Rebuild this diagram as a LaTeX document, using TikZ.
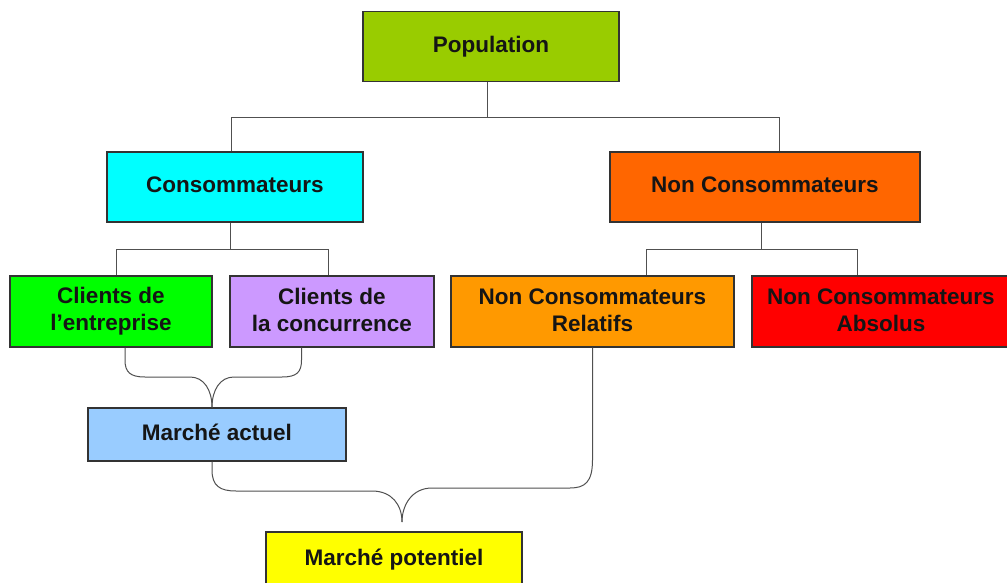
\documentclass[tikz,border=0pt]{standalone}
\usepackage{fontspec}
\setmainfont{Liberation Sans}
\usetikzlibrary{calc}
\definecolor{popgreen}{HTML}{99CC00}
\definecolor{conscyan}{HTML}{00FFFF}
\definecolor{ncorange}{HTML}{FF6600}
\definecolor{clgreen}{HTML}{00FF00}
\definecolor{cclilac}{HTML}{CC99FF}
\definecolor{nrorange}{HTML}{FF9900}
\definecolor{nared}{HTML}{FF0000}
\definecolor{mablue}{HTML}{99CCFF}
\definecolor{mpyellow}{HTML}{FFFF00}
\definecolor{edge}{HTML}{333333}
\definecolor{wire}{HTML}{505050}
\definecolor{ink}{HTML}{151515}
% line strut that keeps capitals centred in each box
\newcommand\capstrut{\rule[-4pt]{0pt}{20pt}}
\tikzset{
  box/.style={draw=edge, line width=1.1pt, inner sep=0pt, align=center,
    text=ink, font=\fontsize{22.5}{27}\selectfont\bfseries},
  conn/.style={draw=wire, line width=1pt},
}
\begin{document}
\begin{tikzpicture}[x=1pt,y=-1pt]
\useasboundingbox (0,0) rectangle (1007,583);
\fill[white] (0,0) rectangle (1007,583);

% boxes
\node[box, fill=popgreen, minimum width=256, minimum height=70] (pop) at (491,46.5) {\capstrut Population};
\node[box, fill=conscyan, minimum width=256, minimum height=70] (cons) at (235,187) {\capstrut Consommateurs};
\node[box, fill=ncorange, minimum width=310, minimum height=70] (nc) at (765,187) {\capstrut Non Consommateurs};
\node[box, fill=clgreen, minimum width=202, minimum height=71] (ce) at (111,311.5) {\capstrut Clients de\\\capstrut l’entreprise};
\node[box, fill=cclilac, minimum width=204, minimum height=71] (cc) at (332,311.5) {\capstrut Clients de\\\capstrut la concurrence};
\node[box, fill=nrorange, minimum width=283, minimum height=71] (nr) at (592.5,311.5) {\capstrut Non Consommateurs\\\capstrut Relatifs};
\node[box, fill=nared, minimum width=258, minimum height=71] (na) at (881,311.5) {\capstrut Non Consommateurs\\\capstrut Absolus};
\node[box, fill=mablue, minimum width=258, minimum height=53] (ma) at (217,434.5) {\capstrut Marché actuel};
\node[box, fill=mpyellow, minimum width=256, minimum height=56] (mp) at (394,560) {\capstrut Marché potentiel};

% tree: population split
\draw[conn] ([xshift=-4pt]pop.south) -- ++(0,35.5) coordinate (j1);
\draw[conn] (j1) -| ([xshift=-4pt]cons.north);
\draw[conn] (j1) -| ([xshift=14pt]nc.north);

% tree: consumers split
\draw[conn] ([xshift=-5pt]cons.south) -- ++(0,27) coordinate (j2);
\draw[conn] (j2) -| ([xshift=5pt]ce.north);
\draw[conn] (j2) -| ([xshift=-4pt]cc.north);

% tree: non consumers split
\draw[conn] ([xshift=-4pt]nc.south) -- ++(0,27) coordinate (j3);
\draw[conn] (j3) -| ([xshift=53.5pt]nr.north);
\draw[conn] (j3) -| ([xshift=-24pt]na.north);

% brace: current market
\coordinate (tipA) at ([xshift=-5pt]ma.north);
\draw[conn] ([xshift=14pt]ce.south) -- (125,360)
  .. controls (125,372) and (130,377) .. (145,377) -- (190,377)
  .. controls (204,377) and (212,390) .. (tipA);
\draw[conn] ([xshift=-30.5pt]cc.south) -- (301.5,360)
  .. controls (301.5,372) and (297,377) .. (282,377) -- (234,377)
  .. controls (220,377) and (212,390) .. (tipA);

% brace: potential market
\coordinate (tipB) at (402,522);
\draw[conn] ([xshift=-5pt]ma.south) -- (212,470)
  .. controls (212,486) and (220,491) .. (236,491) -- (372,491)
  .. controls (392,491) and (402,505) .. (tipB);
\draw[conn] (nr.south) -- (592.5,460)
  .. controls (592.5,482) and (585,488) .. (570,488) -- (432,488)
  .. controls (412,488) and (402,505) .. (tipB);
\end{tikzpicture}
\end{document}
